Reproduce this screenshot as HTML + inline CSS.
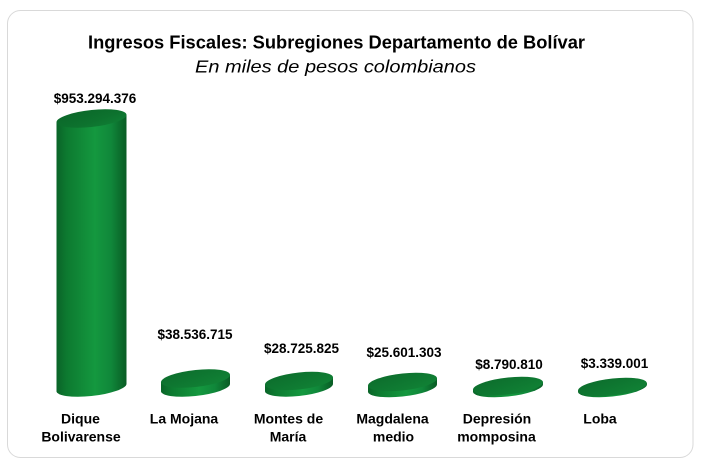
<!DOCTYPE html>
<html>
<head>
<meta charset="utf-8">
<style>
  html,body{margin:0;padding:0;background:#ffffff;}
  svg{display:block;}
  text{font-family:"Liberation Sans", Arial, sans-serif;fill:#000;}
  .t{font-weight:bold;font-size:18px;}
  .s{font-style:italic;font-size:17.5px;}
  .v{font-weight:bold;font-size:13.5px;}
  .c{font-weight:bold;font-size:14px;}
</style>
</head>
<body>
<svg width="701" height="467" viewBox="0 0 701 467" xmlns="http://www.w3.org/2000/svg">
  <defs>
    <linearGradient id="body" x1="0" y1="0" x2="1" y2="0">
      <stop offset="0" stop-color="#0a6428"/>
      <stop offset="0.15" stop-color="#0d7a30"/>
      <stop offset="0.55" stop-color="#14983f"/>
      <stop offset="0.78" stop-color="#10873a"/>
      <stop offset="1" stop-color="#095c24"/>
    </linearGradient>
    <linearGradient id="cap" x1="0" y1="0" x2="1" y2="1">
      <stop offset="0" stop-color="#0b6629"/>
      <stop offset="0.6" stop-color="#0d722e"/>
      <stop offset="1" stop-color="#108035"/>
    </linearGradient>
    <linearGradient id="disc" x1="0" y1="0" x2="1" y2="1">
      <stop offset="0" stop-color="#0c6c2c"/>
      <stop offset="0.6" stop-color="#0f7a32"/>
      <stop offset="1" stop-color="#118436"/>
    </linearGradient>
  </defs>

  <rect x="7.5" y="10.5" width="685.5" height="447" rx="13" ry="13" fill="#fff" stroke="#d9d9d9" stroke-width="1"/>

  <text class="t" x="88" y="48.3" textLength="497" lengthAdjust="spacingAndGlyphs">Ingresos Fiscales: Subregiones Departamento de Bolívar</text>
  <text class="s" x="195" y="72.7" textLength="281" lengthAdjust="spacingAndGlyphs">En miles de pesos colombianos</text>

  <!-- Dique Bolivarense -->
  <g transform="translate(91.5,0) skewY(-6) translate(-91.5,0)">
    <ellipse cx="91.5" cy="387.5" rx="35" ry="8.5" fill="url(#body)"/>
    <rect x="56.5" y="118.5" width="70" height="269" fill="url(#body)"/>
    <ellipse cx="91.5" cy="118.5" rx="35" ry="8.5" fill="url(#cap)"/>
  </g>
  <!-- La Mojana -->
  <g transform="translate(195.5,0) skewY(-6) translate(-195.5,0)">
    <ellipse cx="195.5" cy="387.5" rx="34.5" ry="8.5" fill="url(#body)"/>
    <rect x="161" y="378.5" width="69" height="9" fill="url(#body)"/>
    <ellipse cx="195.5" cy="378.5" rx="34.5" ry="8.5" fill="url(#disc)"/>
  </g>
  <!-- Montes de María -->
  <g transform="translate(299,0) skewY(-6) translate(-299,0)">
    <ellipse cx="299" cy="387.5" rx="34" ry="8.5" fill="url(#body)"/>
    <rect x="265" y="381" width="68" height="6.5" fill="url(#body)"/>
    <ellipse cx="299" cy="381" rx="34" ry="8.5" fill="url(#disc)"/>
  </g>
  <!-- Magdalena medio -->
  <g transform="translate(402.5,0) skewY(-6) translate(-402.5,0)">
    <ellipse cx="402.5" cy="388" rx="34.5" ry="8.5" fill="url(#body)"/>
    <rect x="368" y="382" width="69" height="6" fill="url(#body)"/>
    <ellipse cx="402.5" cy="382" rx="34.5" ry="8.5" fill="url(#disc)"/>
  </g>
  <!-- Depresión momposina -->
  <g transform="translate(508,0) skewY(-6) translate(-508,0)">
    <ellipse cx="508" cy="388" rx="35" ry="8.5" fill="url(#body)"/>
    <rect x="473" y="386" width="70" height="2" fill="url(#body)"/>
    <ellipse cx="508" cy="386" rx="35" ry="8.5" fill="url(#disc)"/>
  </g>
  <!-- Loba -->
  <g transform="translate(612.5,0) skewY(-6) translate(-612.5,0)">
    <ellipse cx="612.5" cy="388" rx="34.5" ry="8.5" fill="url(#body)"/>
    <rect x="578" y="387" width="69" height="1" fill="url(#body)"/>
    <ellipse cx="612.5" cy="387" rx="34.5" ry="8.5" fill="url(#disc)"/>
  </g>

  <!-- value labels -->
  <text class="v" x="95" y="103" text-anchor="middle">$953.294.376</text>
  <text class="v" x="195" y="339" text-anchor="middle">$38.536.715</text>
  <text class="v" x="301.5" y="353" text-anchor="middle">$28.725.825</text>
  <text class="v" x="404" y="357" text-anchor="middle">$25.601.303</text>
  <text class="v" x="509" y="369" text-anchor="middle">$8.790.810</text>
  <text class="v" x="614.5" y="368" text-anchor="middle">$3.339.001</text>

  <!-- category labels -->
  <text class="c" x="80.5" y="423.5" text-anchor="middle">Dique</text>
  <text class="c" x="81" y="441.5" text-anchor="middle">Bolivarense</text>
  <text class="c" x="184" y="423.5" text-anchor="middle">La Mojana</text>
  <text class="c" x="288.5" y="423.5" text-anchor="middle">Montes de</text>
  <text class="c" x="288" y="441.5" text-anchor="middle">María</text>
  <text class="c" x="392.5" y="423.5" text-anchor="middle">Magdalena</text>
  <text class="c" x="393.5" y="441.5" text-anchor="middle">medio</text>
  <text class="c" x="497" y="423.5" text-anchor="middle">Depresión</text>
  <text class="c" x="496.5" y="441.5" text-anchor="middle">momposina</text>
  <text class="c" x="600" y="423.5" text-anchor="middle">Loba</text>
</svg>
</body>
</html>
